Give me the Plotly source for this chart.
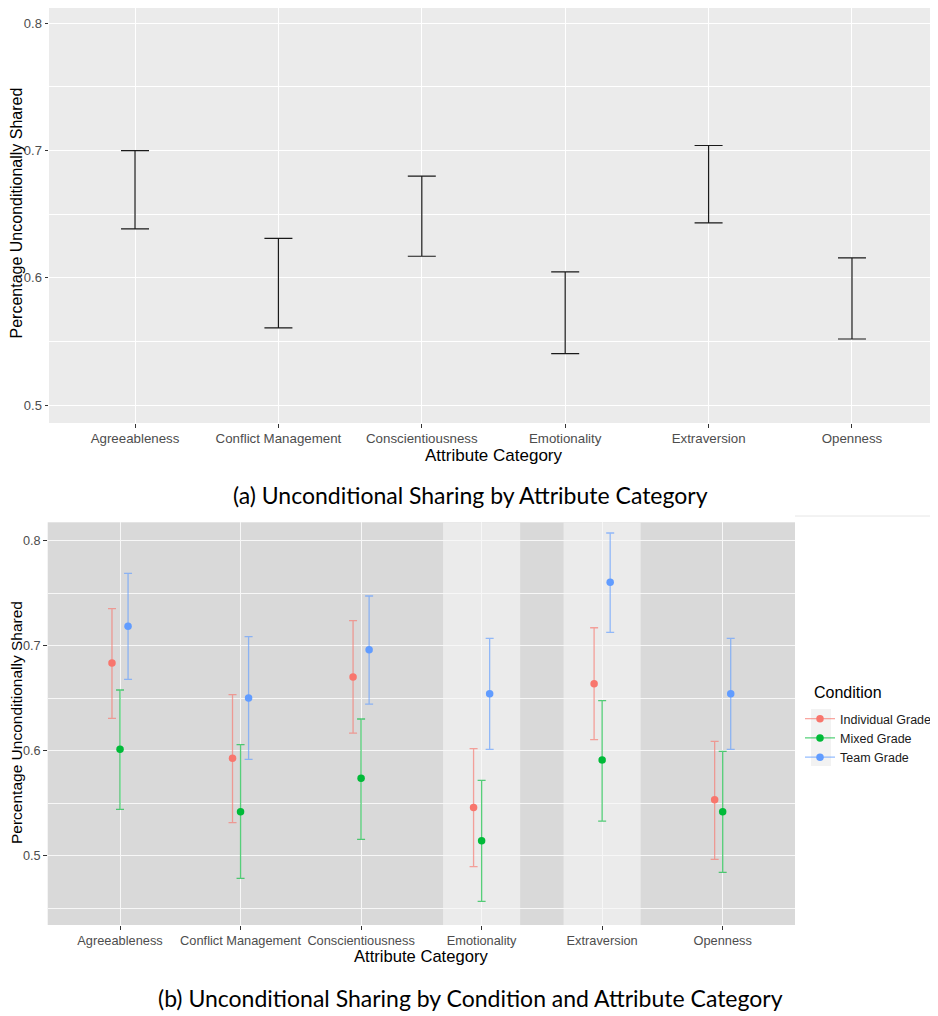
import plotly.graph_objects as go

# ---------------- data ----------------
categories = ["Agreeableness", "Conflict Management", "Conscientiousness",
              "Emotionality", "Extraversion", "Openness"]

# panel (a): overall CI per attribute category
overall_lower = [0.6385, 0.5607, 0.6170, 0.5405, 0.6432, 0.5520]
overall_upper = [0.7000, 0.6311, 0.6799, 0.6047, 0.7040, 0.6157]

# panel (b): by condition
conditions = ["Individual Grade", "Mixed Grade", "Team Grade"]
cond_colors = ["#F8766D", "#00BA38", "#619CFF"]

indiv_mean = [0.6835, 0.5927, 0.6702, 0.5460, 0.6638, 0.5533]
indiv_lower = [0.6308, 0.5314, 0.6168, 0.4895, 0.6105, 0.4965]
indiv_upper = [0.7352, 0.6533, 0.7238, 0.6019, 0.7171, 0.6089]

mixed_mean = [0.6013, 0.5419, 0.5737, 0.5143, 0.5911, 0.5419]
mixed_lower = [0.5441, 0.4784, 0.5156, 0.4565, 0.5330, 0.4841]
mixed_upper = [0.6578, 0.6057, 0.6302, 0.5717, 0.6476, 0.5994]

team_mean = [0.7184, 0.6502, 0.6962, 0.6543, 0.7603, 0.6543]
team_lower = [0.6679, 0.5917, 0.6444, 0.6013, 0.7127, 0.6013]
team_upper = [0.7689, 0.7086, 0.7473, 0.7070, 0.8073, 0.7070]

highlighted = ["Emotionality", "Extraversion"]

y_ticks = [0.5, 0.6, 0.7, 0.8]

# ---------------- styling ----------------
OFF = 8                      # page body margin
W, H = 938 - OFF, 1016 - OFF
TICK_COLOR = "#4D4D4D"
FONT = "Liberation Sans, Arial, sans-serif"
CAP_FONT = "Lato, Noto Sans, sans-serif"
dodge = 0.2
band_half = 0.32
xr = [-0.6, len(categories) - 1 + 0.6]


def px_x(p):
    return (p - OFF) / W


def px_y(p):
    return 1 - (p - OFF) / H


def rgba(hexc, a):
    h = hexc.lstrip("#")
    r, g, b = int(h[0:2], 16), int(h[2:4], 16), int(h[4:6], 16)
    return f"rgba({r},{g},{b},{a})"


fig = go.Figure()
idx = list(range(len(categories)))

# ---- panel (a) ----
mid = [(lo + hi) / 2 for lo, hi in zip(overall_lower, overall_upper)]
fig.add_trace(go.Scatter(
    x=idx, y=mid, mode="markers",
    marker=dict(size=1, opacity=0, color="black"),
    error_y=dict(type="data", symmetric=False,
                 array=[hi - m for hi, m in zip(overall_upper, mid)],
                 arrayminus=[m - lo for lo, m in zip(overall_lower, mid)],
                 color="#1a1a1a", thickness=1.2, width=14),
    showlegend=False, hoverinfo="skip", xaxis="x", yaxis="y"))

# ---- panel (b) ----
series = [(indiv_mean, indiv_lower, indiv_upper),
          (mixed_mean, mixed_lower, mixed_upper),
          (team_mean, team_lower, team_upper)]
n = len(conditions)
for k, (name, col, (m, lo, hi)) in enumerate(zip(conditions, cond_colors, series)):
    off = (k - (n - 1) / 2) * dodge / n
    fig.add_trace(go.Scatter(
        x=[i + off for i in idx], y=m, mode="markers",
        marker=dict(size=7.5, color=col),
        error_y=dict(type="data", symmetric=False,
                     array=[h - v for h, v in zip(hi, m)],
                     arrayminus=[v - l for l, v in zip(lo, m)],
                     color=rgba(col, 0.65), thickness=1.3, width=4),
        name=name, showlegend=False, xaxis="x2", yaxis="y2"))
    # legend key
    fig.add_trace(go.Scatter(
        x=[None], y=[None], mode="lines+markers", name=name,
        marker=dict(size=7.5, color=col),
        line=dict(color=rgba(col, 0.65), width=1.3),
        xaxis="x2", yaxis="y2"))

shapes = []
# panel (a) background
shapes.append(dict(type="rect", xref="x domain", yref="y domain",
                   x0=0, x1=1, y0=0, y1=1, layer="below",
                   line=dict(width=0), fillcolor="#EBEBEB"))
# panel (b) highlighted (lighter) bands
for c in highlighted:
    h = categories.index(c)
    shapes.append(dict(type="rect", xref="x2", yref="y2 domain",
                       x0=h - band_half, x1=h + band_half, y0=0, y1=1,
                       layer="below", line=dict(width=0),
                       fillcolor="#EBEBEB"))
# legend key background
shapes.append(dict(type="rect", xref="paper", yref="paper",
                   x0=px_x(811), x1=px_x(831), y0=px_y(766), y1=px_y(709),
                   layer="below", line=dict(width=0), fillcolor="#F2F2F2"))
# faint separator line at top-right of panel (b)
shapes.append(dict(type="line", xref="paper", yref="paper",
                   x0=px_x(795), x1=1, y0=px_y(516), y1=px_y(516),
                   layer="below", line=dict(width=1, color="#E6E6E6")))

axis_common = dict(
    showline=False, zeroline=False,
    ticks="outside", ticklen=3.5, tickwidth=1, tickcolor="#333333",
    showgrid=True, gridcolor="white", gridwidth=1.2, tickangle=0,
)

fig.update_layout(
    width=W, height=H,
    margin=dict(l=0, r=0, t=0, b=0, autoexpand=False),
    paper_bgcolor="white",
    plot_bgcolor="#D9D9D9",
    xaxis=dict(**axis_common, domain=[px_x(49), 1], range=xr,
               tickfont=dict(family=FONT, size=13.3, color=TICK_COLOR),
               tickmode="array", tickvals=idx, ticktext=categories,
               anchor="y"),
    yaxis=dict(**axis_common, domain=[px_y(423), 1], range=[0.486, 0.812],
               tickfont=dict(family=FONT, size=13, color=TICK_COLOR),
               tickmode="array", tickvals=y_ticks,
               ticktext=[f"{v:.1f}" for v in y_ticks],
               minor=dict(tickmode="array", tickvals=[0.55, 0.65, 0.75],
                          showgrid=True, gridcolor="white", gridwidth=0.6,
                          ticks=""),
               anchor="x"),
    xaxis2=dict(**{**axis_common, "gridcolor": "#F7F7F7"},
                domain=[px_x(47.7), px_x(795)], range=xr,
                tickfont=dict(family=FONT, size=12.8, color=TICK_COLOR),
                tickmode="array", tickvals=idx, ticktext=categories,
                anchor="y2"),
    yaxis2=dict(**{**axis_common, "gridcolor": "#F7F7F7"},
                domain=[px_y(925), px_y(522.3)], range=[0.434, 0.8175],
                tickfont=dict(family=FONT, size=12.7, color=TICK_COLOR),
                tickmode="array", tickvals=y_ticks,
                ticktext=[f"{v:.1f}" for v in y_ticks],
                minor=dict(tickmode="array", tickvals=[0.45, 0.55, 0.65, 0.75],
                           showgrid=True, gridcolor="#F7F7F7", gridwidth=0.6,
                           ticks=""),
                anchor="x2"),
    shapes=shapes,
    legend=dict(
        xref="paper", yref="paper",
        x=px_x(800), y=px_y(704), xanchor="left", yanchor="top",
        bgcolor="rgba(0,0,0,0)",
        font=dict(family=FONT, size=12.5, color="#1a1a1a"),
        itemwidth=30, tracegroupgap=0,
    ),
    annotations=[
        dict(text="Condition", xref="paper", yref="paper",
             x=px_x(812), y=px_y(692.7), xanchor="left", yanchor="middle",
             showarrow=False, font=dict(family=FONT, size=16, color="black")),
        dict(text="Attribute Category", xref="paper", yref="paper",
             x=px_x(493.5), y=px_y(455), xanchor="center", yanchor="middle",
             showarrow=False, font=dict(family=FONT, size=17, color="black")),
        dict(text="Percentage Unconditionally Shared", xref="paper", yref="paper",
             x=px_x(16), y=px_y(213.5), xanchor="center", yanchor="middle",
             textangle=-90, showarrow=False,
             font=dict(family=FONT, size=16, color="black")),
        dict(text="Attribute Category", xref="paper", yref="paper",
             x=px_x(421), y=px_y(956), xanchor="center", yanchor="middle",
             showarrow=False, font=dict(family=FONT, size=16.6, color="black")),
        dict(text="Percentage Unconditionally Shared", xref="paper", yref="paper",
             x=px_x(16), y=px_y(723), xanchor="center", yanchor="middle",
             textangle=-90, showarrow=False,
             font=dict(family=FONT, size=15.5, color="black")),
        dict(text="(a) Unconditional Sharing by Attribute Category",
             xref="paper", yref="paper", x=px_x(470), y=px_y(495),
             xanchor="center", yanchor="middle", showarrow=False,
             font=dict(family=CAP_FONT, size=23, color="black")),
        dict(text="(b) Unconditional Sharing by Condition and Attribute Category",
             xref="paper", yref="paper", x=px_x(470), y=px_y(998),
             xanchor="center", yanchor="middle", showarrow=False,
             font=dict(family=CAP_FONT, size=23, color="black")),
    ],
)

fig.write_html("out.html")
